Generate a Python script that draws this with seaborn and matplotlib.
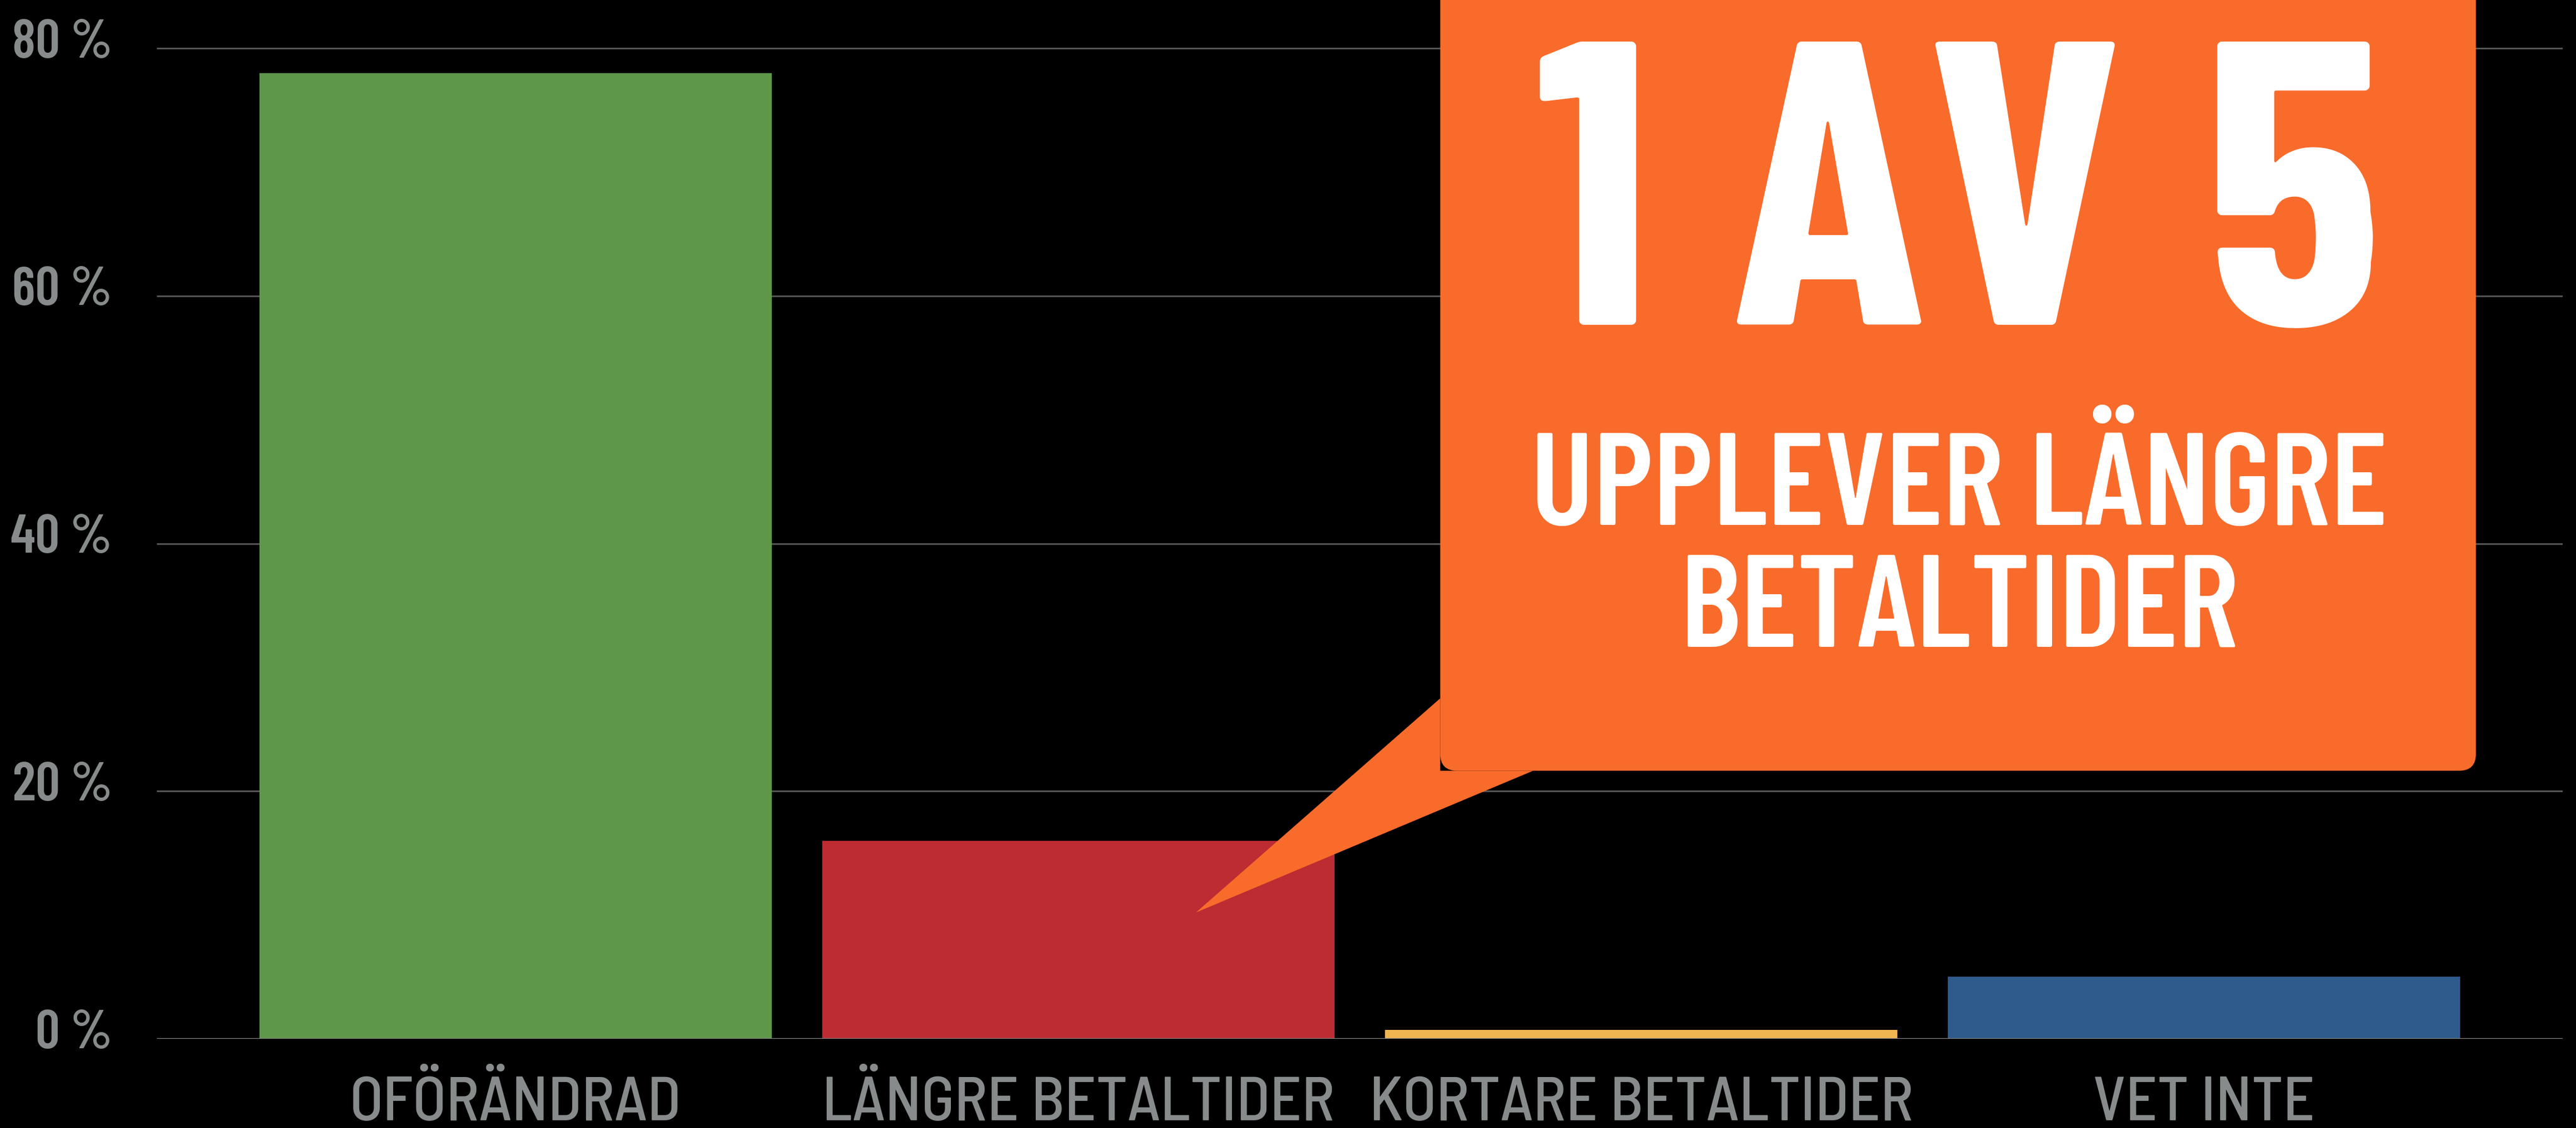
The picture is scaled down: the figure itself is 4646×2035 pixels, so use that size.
import matplotlib
matplotlib.use("Agg")
import matplotlib.pyplot as plt
import seaborn as sns
from matplotlib.patches import FancyBboxPatch, Polygon
from matplotlib.transforms import ScaledTranslation

categories = ["OFÖRÄNDRAD", "LÄNGRE BETALTIDER", "KORTARE BETALTIDER", "VET INTE"]
values = [78, 16, 0.7, 5]
colors = ["#5E974A", "#BC2C32", "#F0B450", "#2E5A8C"]
yticks = [0, 20, 40, 60, 80]
ytick_labels = ["0 %", "20 %", "40 %", "60 %", "80 %"]
callout_big = "1 AV 5"
callout_lines = ["UPPLEVER LÄNGRE", "BETALTIDER"]

sns.set_theme(style="dark")
plt.rcParams["font.family"] = ["Barlow Condensed", "DejaVu Sans"]

GRAY = "#878B8C"
ORANGE = "#F96B2B"

fig = plt.figure(figsize=(46.46, 20.35), dpi=100, facecolor="black")
ax = fig.add_axes([0.0609, 0.0791, 0.9339, 0.8791])
ax.set_facecolor("black")

sns.barplot(x=categories, y=values, hue=categories, palette=colors,
            saturation=1, width=0.91, legend=False, ax=ax,
            edgecolor="none", linewidth=0, zorder=2)

ax.set_xlim(-0.637, 3.637)
ax.set_ylim(0, 80.1)
for s in ax.spines.values():
    s.set_visible(False)

# grid + baseline
ax.set_axisbelow(True)
ax.yaxis.grid(True, color="#575757", linewidth=2.1)
ax.xaxis.grid(False)
ax.axhline(0, color="#8A8A8A", linewidth=2.4, zorder=3)

# ticks
ax.set_yticks(yticks)
ax.set_yticklabels(ytick_labels, fontsize=70, fontweight=600, color=GRAY)
ax.tick_params(axis="y", length=0, pad=58)
shift = ScaledTranslation(0, 0.18, fig.dpi_scale_trans)
for lab in ax.get_yticklabels():
    lab.set_transform(lab.get_transform() + shift)

ax.set_xticks(range(len(categories)))
ax.set_xticklabels(categories, fontsize=80, fontweight=500, color=GRAY,
                   family=["Barlow Semi Condensed", "Barlow Condensed", "DejaVu Sans"])
ax.tick_params(axis="x", length=0, pad=106)
for lab in ax.get_xticklabels():
    lab.set_verticalalignment("baseline")
ax.set_xlabel("")
ax.set_ylabel("")

# callout bubble pointing at the red bar
box = FancyBboxPatch((1.643, 21.65), 3.483 - 1.643, 90 - 21.65,
                     boxstyle="round,pad=0,rounding_size=0.03",
                     mutation_aspect=45.4, facecolor=ORANGE,
                     edgecolor="none", clip_on=False, zorder=5)
ax.add_patch(box)
tail = Polygon([(1.643, 27.5), (1.209, 10.2), (1.808, 21.65), (1.643, 21.65)],
               closed=True, facecolor=ORANGE, edgecolor="none",
               clip_on=False, zorder=5)
ax.add_patch(tail)

ax.text(2.565, 69.1, callout_big, color="white", fontsize=525, fontweight=700,
        ha="center", va="center_baseline", zorder=6, clip_on=False)
ax.text(2.565, 45.4, callout_lines[0], color="white", fontsize=170, fontweight=600,
        ha="center", va="center_baseline", zorder=6)
ax.text(2.565, 35.4, callout_lines[1], color="white", fontsize=170, fontweight=600,
        ha="center", va="center_baseline", zorder=6)

plt.show()
fig.savefig("out.png", dpi=100, facecolor="black")
